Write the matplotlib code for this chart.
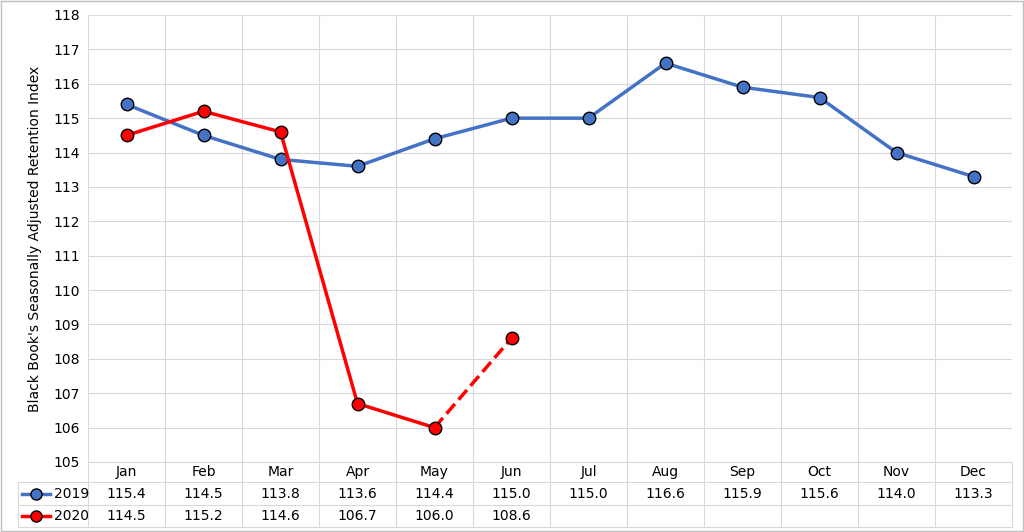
import matplotlib
matplotlib.use("Agg")
import matplotlib.pyplot as plt
from matplotlib.lines import Line2D

months = ["Jan","Feb","Mar","Apr","May","Jun","Jul","Aug","Sep","Oct","Nov","Dec"]
v2019 = [115.4,114.5,113.8,113.6,114.4,115.0,115.0,116.6,115.9,115.6,114.0,113.3]
v2020 = [114.5,115.2,114.6,106.7,106.0,108.6]
blue = "#4472C4"; red = "#FF0000"; grid = "#D9D9D9"

W, H = 1024, 532
fig = plt.figure(figsize=(W/100, H/100), dpi=100)
L, R, T, B = 88, 1012, 15, 462
ax = fig.add_axes([L/W, 1-B/H, (R-L)/W, (B-T)/H])
ax.set_xlim(-0.5, 11.5); ax.set_ylim(105, 118)
ax.set_yticks(range(105, 119))
ax.tick_params(axis="y", length=0, labelsize=10, pad=6)
ax.set_xticks([])
for y in range(106, 119):
    ax.axhline(y, color=grid, lw=0.8, zorder=0)
for k in range(12):
    ax.axvline(k+0.5, color=grid, lw=0.8, zorder=0)
for s in ax.spines.values():
    s.set_visible(False)
ax.axvline(-0.5, color=grid, lw=0.8)
mk = dict(marker="o", ms=9, mec="black", mew=1.0)
x19 = list(range(12))
ax.plot(x19, v2019, color=blue, lw=2.5, mfc=blue, **mk, zorder=3)
ax.plot(range(5), v2020[:5], color=red, lw=2.5, mfc=red, **mk, zorder=4)
ax.plot([4, 5], v2020[4:6], color=red, lw=2.5, ls="--", zorder=3)
ax.plot([5], [v2020[5]], color=red, lw=0, mfc=red, **mk, zorder=4)
ax.set_ylabel("Black Book's Seasonally Adjusted Retention Index", fontsize=10, labelpad=8)

# data table
t = fig.add_axes([0, 0, 1, 1], facecolor="none")
t.set_xlim(0, W); t.set_ylim(H, 0); t.axis("off")
cw = (R-L)/12
rows = [462, 482, 505, 527]
t.plot([L, R], [462, 462], color=grid, lw=0.8)
for y in rows[1:]:
    t.plot([18, R], [y, y], color=grid, lw=0.8)
for k in range(13):
    t.plot([L+k*cw]*2, [462, 527], color=grid, lw=0.8)
t.plot([18, 18], [482, 527], color=grid, lw=0.8)
for k, m in enumerate(months):
    cx = L + (k+0.5)*cw
    t.text(cx, 472, m, ha="center", va="center", fontsize=10)
    t.text(cx, 494, f"{v2019[k]:.1f}", ha="center", va="center", fontsize=10)
    if k < len(v2020):
        t.text(cx, 516, f"{v2020[k]:.1f}", ha="center", va="center", fontsize=10)
for y, c, lab in [(494, blue, "2019"), (516, red, "2020")]:
    t.add_line(Line2D([22, 50], [y, y], color=c, lw=2.5))
    t.plot([36], [y], marker="o", ms=8, mfc=c, mec="black", mew=1.0)
    t.text(54, y, lab, ha="left", va="center", fontsize=10)
# outer border
t.plot([1, W-1, W-1, 1, 1], [1, 1, H-1, H-1, 1], color="#BFBFBF", lw=1)
fig.savefig("out.png", dpi=100)
